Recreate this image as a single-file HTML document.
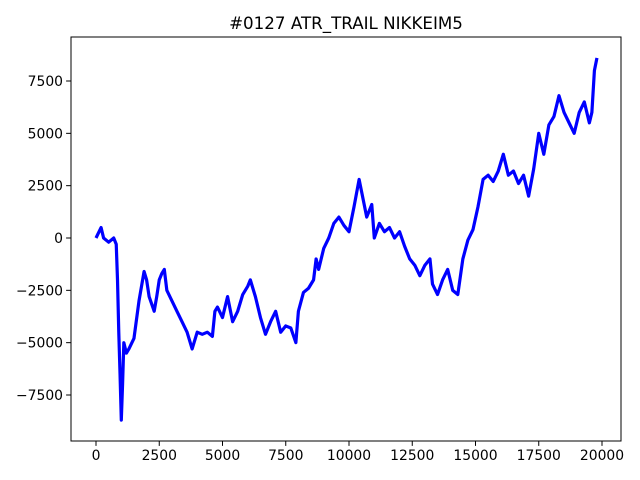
<!DOCTYPE html>
<html><head><meta charset="utf-8"><style>
body{margin:0;background:#fff}
svg{display:block;font-family:"DejaVu Sans","Liberation Sans",sans-serif}
</style></head><body>
<svg id="chart" width="640" height="480"></svg>
<script>
const xs=[0,200,300,500,700,800,850,900,950,1000,1050,1100,1200,1300,1500,1700,1900,2000,2100,2300,2400,2500,2600,2700,2800,3000,3200,3400,3600,3800,4000,4200,4400,4600,4700,4800,5000,5200,5400,5600,5800,6000,6100,6300,6500,6700,6900,7100,7300,7500,7700,7900,8000,8200,8400,8600,8700,8800,9000,9200,9400,9600,9800,10000,10200,10400,10500,10700,10900,11000,11200,11400,11600,11800,12000,12200,12400,12600,12800,13000,13200,13300,13500,13700,13900,14100,14300,14500,14700,14900,15100,15300,15500,15700,15900,16100,16300,16500,16700,16900,17100,17300,17500,17700,17900,18100,18300,18500,18700,18900,19100,19300,19500,19600,19700,19800];
const ys=[0,500,0,-200,0,-300,-2000,-4500,-6500,-8700,-7000,-5000,-5500,-5300,-4800,-3000,-1600,-2000,-2800,-3500,-2800,-2000,-1700,-1500,-2500,-3000,-3500,-4000,-4500,-5300,-4500,-4600,-4500,-4700,-3500,-3300,-3800,-2800,-4000,-3500,-2700,-2300,-2000,-2800,-3800,-4600,-4000,-3500,-4500,-4200,-4300,-5000,-3500,-2600,-2400,-2000,-1000,-1500,-500,0,700,1000,600,300,1500,2800,2200,1000,1600,0,700,300,500,0,300,-400,-1000,-1300,-1800,-1300,-1000,-2200,-2700,-2000,-1500,-2500,-2700,-1000,-100,400,1500,2800,3000,2700,3200,4000,3000,3200,2600,3000,2000,3300,5000,4000,5400,5800,6800,6000,5500,5000,6000,6500,5500,6000,8000,8600];
const xTicks=[0,2500,5000,7500,10000,12500,15000,17500,20000];
const yTicks=[-7500,-5000,-2500,0,2500,5000,7500];
const L=71,R=621,T=37,B=441;
const X=v=>96+v*0.0253, Y=v=>238-v*0.020933;
const svg=document.getElementById('chart');const NS='http://www.w3.org/2000/svg';
function mk(t,a,txt){const e=document.createElementNS(NS,t);for(const k in a)e.setAttribute(k,a[k]);if(txt!==undefined)e.textContent=txt;svg.appendChild(e);return e;}
let t=mk('text',{x:346,y:29,'text-anchor':'middle','font-size':16.7,fill:'#000'},'#0127 ATR_TRAIL NIKKEIM5');


let p=mk('polyline',{points:xs.map((x,i)=>X(x)+','+Y(ys[i])).join(' '),fill:'none',stroke:'#0000ff','stroke-width':3.2,'stroke-linejoin':'round'});


let f=mk('rect',{x:L,y:T,width:R-L,height:B-T,fill:'none',stroke:'#000','stroke-width':1});


xTicks.forEach(v=>{const x=X(v);
let l=mk('line',{x1:x,x2:x,y1:B,y2:B+4.9,stroke:'#000'});


let s=mk('text',{x:x,y:B+19,'text-anchor':'middle','font-size':13.9},String(v));

});
yTicks.forEach(v=>{const y=Y(v);
let l=mk('line',{x1:L-4.9,x2:L,y1:y,y2:y,stroke:'#000'});


let s=mk('text',{x:L-8,y:y+5,'text-anchor':'end','font-size':13.9},v<0?'\u2212'+(-v):String(v));

});
</script>
</body></html>
